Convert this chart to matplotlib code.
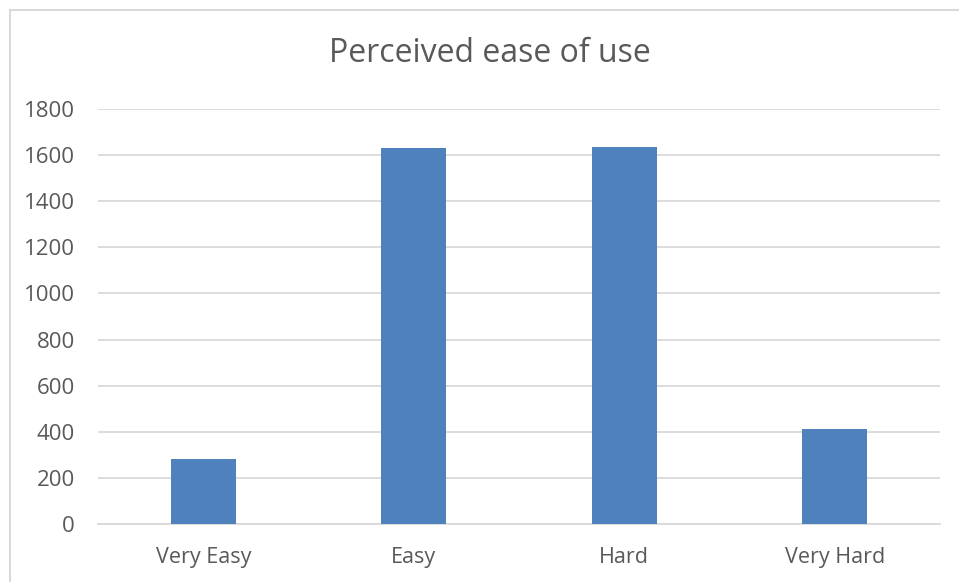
import matplotlib
matplotlib.use("Agg")
import matplotlib.pyplot as plt
from matplotlib.patches import Rectangle

categories = ["Very Easy", "Easy", "Hard", "Very Hard"]
counts = [282, 1629, 1635, 411]
yticks = [0, 200, 400, 600, 800, 1000, 1200, 1400, 1600, 1800]

plt.rcParams['font.family'] = ['Open Sans', 'DejaVu Sans']
text_color = "#595959"
grid_color = "#D9D9D9"

W, H = 959, 582
fig = plt.figure(figsize=(W / 100, H / 100), dpi=100)

# chart frame (runs off the right and bottom edges)
fig.patches.append(Rectangle((10 / W, -0.1), 1.2, 1 - 10 / H + 0.1,
                             transform=fig.transFigure, fill=False,
                             edgecolor=grid_color, linewidth=1.5))

ax = fig.add_axes([98 / W, (H - 524) / H, (940 - 98) / W, (524 - 109) / H])
x = range(len(categories))
ax.bar(x, counts, width=0.31, color="#4F81BD", zorder=3)

ax.set_xlim(-0.5, len(categories) - 0.5)
ax.set_ylim(0, 1800)
ax.set_yticks(yticks)
ax.set_xticks(list(x))
ax.set_xticklabels(categories)
ax.yaxis.grid(True, color=grid_color, linewidth=1.3, zorder=0)
ax.tick_params(axis='both', length=0, labelsize=15.5, colors=text_color)
ax.tick_params(axis='y', labelsize=16, pad=16.5)
ax.tick_params(axis='x', pad=16.5)
for side in ["top", "right", "left"]:
    ax.spines[side].set_visible(False)
ax.spines["bottom"].set_color(grid_color)
ax.spines["bottom"].set_linewidth(1.3)

fig.text(490 / W, 1 - 54 / H, "Perceived ease of use",
         ha="center", va="center", fontsize=23, color=text_color)

fig.savefig("out.png", dpi=100)
